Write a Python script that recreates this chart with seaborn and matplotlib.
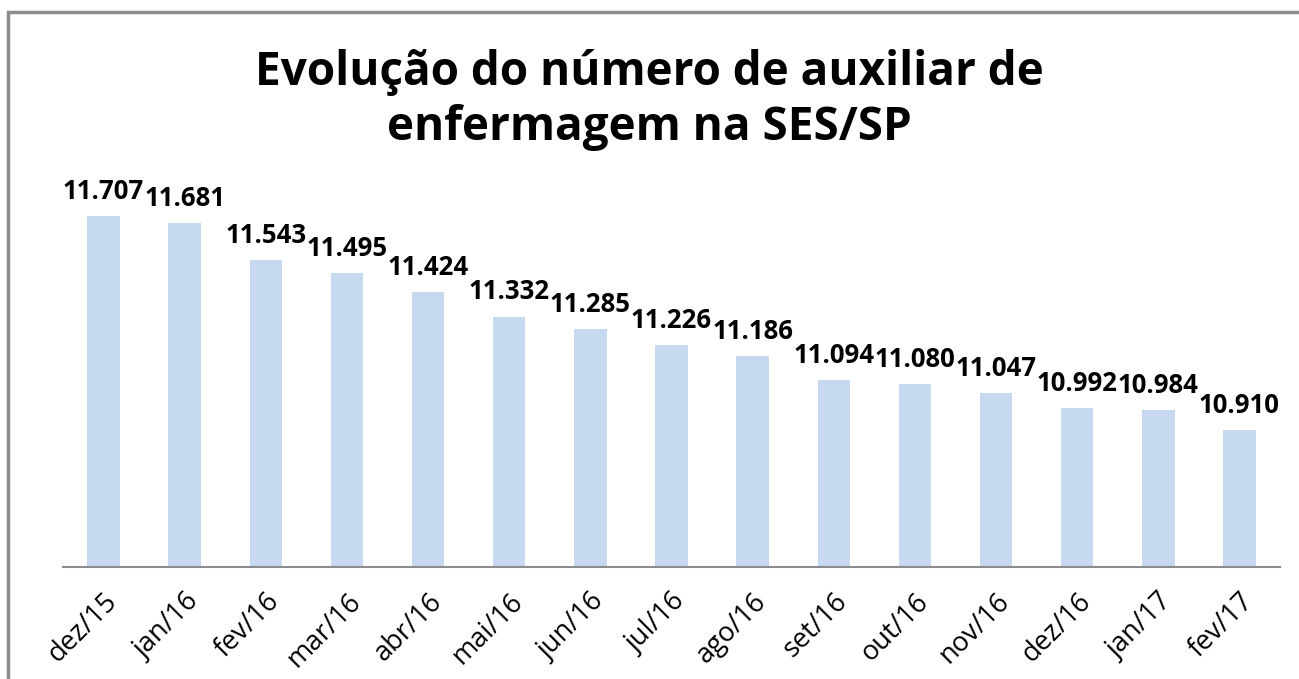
import numpy as np
import pandas as pd
import seaborn as sns
import matplotlib.pyplot as plt
from matplotlib.patches import Rectangle

# dados
meses = ['dez/15', 'jan/16', 'fev/16', 'mar/16', 'abr/16', 'mai/16', 'jun/16', 'jul/16',
         'ago/16', 'set/16', 'out/16', 'nov/16', 'dez/16', 'jan/17', 'fev/17']
auxiliares = [11707, 11681, 11543, 11495, 11424, 11332, 11285, 11226,
              11186, 11094, 11080, 11047, 10992, 10984, 10910]

sns.set_style('white')
plt.rcParams['font.family'] = ['Open Sans', 'DejaVu Sans']
plt.rcParams['text.color'] = 'black'
plt.rcParams['xtick.color'] = 'black'

df = pd.DataFrame({'mes': meses, 'n': auxiliares})

fig = plt.figure(figsize=(12.99, 6.79), dpi=100)
ax = fig.add_axes([63/1299, 1 - 567/679, (1280 - 63)/1299, (567 - 180)/679])

sns.barplot(data=df, x='mes', y='n', color='#C6D9F0', width=0.4, ax=ax,
            saturation=1, edgecolor='none')

ax.set_ylim(10400, 11840)
ax.set_xlim(-0.5, 14.5)

for i, v in enumerate(auxiliares):
    txt = f'{v:,}'.replace(',', '.')
    ax.annotate(txt, (i, v), xytext=(0, 8), textcoords='offset points',
                ha='center', va='bottom', fontsize=18.5, fontweight='bold')

for s in ['top', 'right', 'left']:
    ax.spines[s].set_visible(False)
ax.spines['bottom'].set_color('#8c8c8c')
ax.spines['bottom'].set_linewidth(1.5)
ax.set_yticks([])
ax.set_xlabel('')
ax.set_ylabel('')
ax.tick_params(axis='x', length=0, pad=15, labelsize=19.5)
plt.setp(ax.get_xticklabels(), rotation=45, ha='right', rotation_mode='anchor')

fig.text(0.5, 1 - 100/679, 'Evolução do número de auxiliar de\nenfermagem na SES/SP',
         ha='center', va='center', fontsize=33, fontweight='bold', linespacing=1.2)

# moldura
fig.patches.append(Rectangle((8/1299, -0.05), 1.1, 1 - 12/679 + 0.05,
                             transform=fig.transFigure, fill=False,
                             edgecolor='#8c8c8c', linewidth=2.5))

fig.savefig('out.png', dpi=100)
